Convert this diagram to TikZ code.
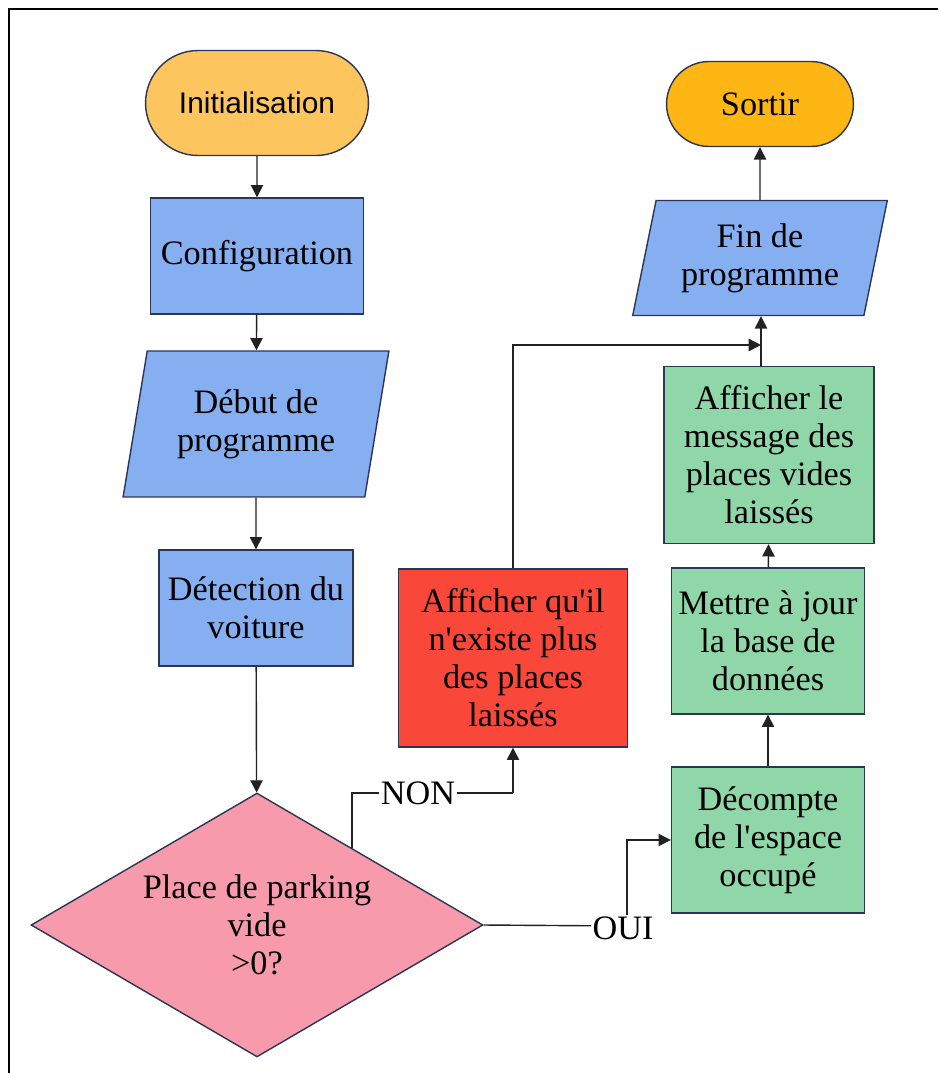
\documentclass[tikz,border=0pt]{standalone}
\usepackage{fontspec}
\setmainfont{Liberation Serif}
\newfontfamily\initfont{Liberation Sans}
\usetikzlibrary{arrows.meta,shapes.geometric,shapes.misc,calc,positioning}
\definecolor{initcol}{HTML}{FDC55E}
\definecolor{sortircol}{HTML}{FDB614}
\definecolor{bluecol}{HTML}{86AFF2}
\definecolor{pinkcol}{HTML}{F79AAB}
\definecolor{redcol}{HTML}{F9473A}
\definecolor{greencol}{HTML}{8FD6A8}
\definecolor{bordcol}{HTML}{2B3556}
\definecolor{linecol}{HTML}{222222}

\begin{document}
\begin{tikzpicture}[
x=0.02cm, y=-0.02cm,
every node/.style={draw=bordcol, line width=0.8pt, align=center, inner sep=2pt,
  font=\fontsize{19.5}{21.6}\selectfont},
terminal/.style={rounded rectangle},
process/.style={rectangle},
io/.style={trapezium, trapezium left angle=76.5, trapezium right angle=103.5,
  trapezium stretches=true, fill=bluecol},
choice/.style={diamond, inner sep=0pt, shape aspect=1.71, fill=pinkcol},
answer/.style={draw=none, fill=white, inner sep=1pt},
flow/.style={draw=linecol, line width=0.8pt, -{Triangle[width=7pt,length=7pt]}},
link/.style={draw=linecol, line width=0.8pt}
]
\useasboundingbox (0,0) rectangle (938,1073);
\draw[line width=1.1pt] (938,9) -- (9,9) -- (9,1073);

\node[terminal, fill=initcol, minimum width=4.6cm, minimum height=2.1cm,
  font=\initfont\fontsize{17}{20}\selectfont] (init) at (257,103) {Initialisation};
\node[process, fill=bluecol, minimum width=4.26cm, minimum height=2.32cm] (config) at (257,256) {Configuration};
\node[io, minimum width=5.32cm, minimum height=2.92cm] (debut) at (256,424) {D\'ebut de\\programme};
\node[process, fill=bluecol, minimum width=3.88cm, minimum height=2.32cm] (detect) at (256,608) {D\'etection du\\voiture};
\node[choice, minimum width=9.04cm, minimum height=5.28cm] (decision) at (257,925) {Place de parking\\vide\\>0?};

\node[process, fill=redcol, minimum width=4.58cm, minimum height=3.56cm] (plein) at (513,658) {Afficher qu\textquotesingle il\\n\textquotesingle existe plus\\des places\\laiss\'es};

\node[terminal, fill=sortircol, minimum width=3.88cm, minimum height=1.7cm] (sortir) at (760,104) {Sortir};
\node[io, minimum width=5.1cm, minimum height=2.3cm, trapezium left angle=76.3,
  trapezium right angle=103.7] (fin) at (760,258) {Fin de\\programme};
\node[process, fill=greencol, minimum width=4.2cm, minimum height=3.54cm] (message) at (769,455) {Afficher le\\message des\\places vides\\laiss\'es};
\node[process, fill=greencol, minimum width=3.86cm, minimum height=2.92cm] (miseajour) at (768,641) {Mettre \`a jour\\la base de\\donn\'ees};
\node[process, fill=greencol, minimum width=3.86cm, minimum height=2.92cm] (decompte) at (768,840) {D\'ecompte\\de l\textquotesingle espace\\occup\'e};

\coordinate (merge) at (761,345);

\draw[flow] (init) -- (config);
\draw[flow] (config) -- (debut);
\draw[flow] (debut) -- (detect);
\draw[flow] (detect) -- (decision);
\draw[link] ($(decision.north)!0.42!(decision.east)$) |- (418,793) -- (513,793);
\draw[flow] (513,793) -- (plein.south);
\draw[flow] (plein.north) |- (merge);
\draw[flow] (merge |- message.north) -- (merge |- fin.south);
\draw[flow] (fin) -- (sortir);
\draw[flow] (miseajour) -- (message);
\draw[flow] (decompte) -- (miseajour);
\draw[link] (decision.east) -- (624,926);
\draw[flow] (627,926) |- (decompte.west);

\node[answer] (non) at (418,793) {NON};
\node[answer] (oui) at (623,928) {OUI};
\end{tikzpicture}
\end{document}
